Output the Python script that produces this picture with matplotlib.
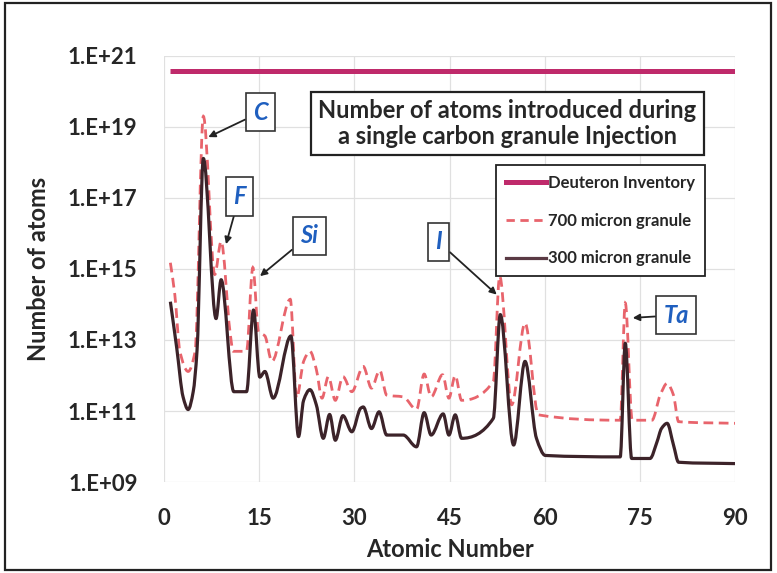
import numpy as np
import matplotlib
matplotlib.use('Agg')
import matplotlib.pyplot as plt
from matplotlib.patches import Rectangle, PathPatch
from matplotlib.path import Path
from matplotlib.lines import Line2D

plt.rcParams['font.family'] = ['Lato', 'DejaVu Sans']
plt.rcParams['font.weight'] = 'bold'

# Atomic number vs number of atoms
z_300 = [1, 2, 3, 3.8, 4.6, 5.2, 6.2, 8.2, 9.0, 11.0, 13.0, 14.1, 15.1, 15.9, 17.2,
         20.0, 21.2, 22.0, 23.0, 24.0, 25.1, 26.1, 27.0, 28.2, 29.6, 31.0, 31.4,
         32.7, 33.9, 35.1, 37.7, 39.8, 41.0, 42.1, 44.0, 44.9, 45.9, 46.9, 51.9,
         53.0, 55.1, 56.9, 58.7, 60.1, 71.9, 72.7, 73.7, 76.6, 77.7, 78.4, 79.3,
         80.3, 81.1, 90]
n_300 = [1.2e14, 6e12, 2.5e11, 1.1e11, 3.5e11, 5e12, 1.3e18, 4e13, 5e14, 3.5e11,
         3.5e11, 7e13, 9e11, 1.3e12, 2.3e11, 1.3e13, 1.9e10, 2e11, 4e11, 1.5e11,
         1.7e10, 8e10, 1.5e10, 7.4e10, 2.6e10, 1.2e11, 1.3e11, 3.2e10, 9.5e10,
         2.1e10, 2.1e10, 9.8e9, 9e10, 2.1e10, 8.3e10, 2.1e10, 7.8e10, 1.7e10,
         6.2e10, 5.2e13, 1.1e10, 2.5e12, 1.7e10, 5.6e9, 5.1e9, 8.1e12, 4.6e9,
         4.6e9, 1.35e10, 3.2e10, 4.5e10, 1.1e10, 3.6e9, 3.3e9]

z_700 = [1, 1.7, 2.5, 3.8, 4.9, 6.2, 8.0, 9.0, 10.4, 10.9, 13.0, 14.0, 14.9, 15.9,
         17.0, 19.9, 20.9, 22.0, 23.0, 24.0, 24.9, 25.9, 27.0, 28.2, 29.6, 31.4,
         32.7, 34.0, 35.1, 37.7, 39.8, 41.0, 42.1, 43.9, 44.9, 45.9, 46.9, 51.9,
         52.9, 54.8, 56.9, 59.0, 71.9, 72.7, 73.8, 76.9, 78.2, 79.3, 80.3, 81.1, 90]
n_700 = [1.5e15, 1.9e14, 4.8e12, 1.3e12, 4.8e12, 2e19, 7e14, 6e15, 1.7e13, 4.8e12,
         4.8e12, 1.1e15, 1.7e13, 1.3e13, 2.5e12, 1.4e14, 2.3e11, 2.5e12, 4.8e12,
         1.5e12, 2.3e11, 9.3e11, 2e11, 9.3e11, 3.5e11, 1.8e12, 4.4e11, 1.4e12,
         2.8e11, 2.5e11, 1.1e11, 1.1e12, 2.5e11, 1.05e12, 2.3e11, 1e12, 2e11,
         6.8e11, 6.3e14, 1.5e11, 3e13, 7.8e10, 5.5e10, 1.1e14, 5.5e10, 5.5e10,
         2.8e11, 6e11, 2.8e11, 5e10, 4.5e10]

z_deut = [1, 90]
n_deut = [3.8e20, 3.8e20]

y_ticks = [1e9, 1e11, 1e13, 1e15, 1e17, 1e19, 1e21]
y_tick_labels = ['1.E+09', '1.E+11', '1.E+13', '1.E+15', '1.E+17', '1.E+19', '1.E+21']
x_ticks = [0, 15, 30, 45, 60, 75, 90]

text_col = '#262626'
c_deut = '#BF2A6B'
c_700 = '#E8646C'
c_300 = '#3C2329'


def smooth_path(x, y):
    """Smoothed line through the points (like Excel's smoothed line), drawn as bezier segments."""
    x = np.asarray(x, float)
    ly = np.log10(y)
    h = np.diff(x)
    d = np.diff(ly) / h
    m = np.zeros_like(ly)
    for k in range(1, len(x) - 1):
        if d[k - 1] * d[k] > 0:
            w1 = 2 * h[k] + h[k - 1]
            w2 = h[k] + 2 * h[k - 1]
            m[k] = (w1 + w2) / (w1 / d[k - 1] + w2 / d[k])
    m[0], m[-1] = d[0], d[-1]
    verts = [(x[0], ly[0])]
    codes = [Path.MOVETO]
    for k in range(len(x) - 1):
        verts += [(x[k] + h[k] / 3, ly[k] + m[k] * h[k] / 3),
                  (x[k + 1] - h[k] / 3, ly[k + 1] - m[k + 1] * h[k] / 3),
                  (x[k + 1], ly[k + 1])]
        codes += [Path.CURVE4] * 3
    verts = np.array(verts)
    verts[:, 1] = 10 ** verts[:, 1]
    return Path(verts, codes)


fig = plt.figure(figsize=(7.77, 5.73), dpi=100)
ax = fig.add_axes([0.2111, 0.1588, 0.7349, 0.7435])

ax.plot(z_deut, n_deut, color=c_deut, lw=3.6, solid_capstyle='butt')
ax.add_patch(PathPatch(smooth_path(z_700, n_700), fill=False, ec=c_700, lw=2.0,
                       ls=(0, (3.5, 2)), zorder=3))
ax.add_patch(PathPatch(smooth_path(z_300, n_300), fill=False, ec=c_300, lw=2.3,
                       zorder=3, joinstyle='round'))

ax.set_yscale('log')
ax.set_ylim(1e9, 1e21)
ax.set_xlim(0, 90)
ax.set_yticks(y_ticks)
ax.set_yticklabels(y_tick_labels, fontweight='bold')
ax.yaxis.set_minor_locator(matplotlib.ticker.NullLocator())
ax.set_xticks(x_ticks)
ax.set_xticklabels([str(v) for v in x_ticks], fontweight='bold')
ax.tick_params(length=0, labelsize=16, colors=text_col)
ax.tick_params(axis='y', pad=19)
ax.tick_params(axis='x', pad=19)
for s in ax.spines.values():
    s.set_visible(False)
ax.grid(True, color='#e0e0e0', lw=0.9)
ax.set_axisbelow(True)

ax.set_xlabel('Atomic Number', fontsize=17, fontweight='bold', color=text_col, labelpad=6)
ax.set_ylabel('Number of atoms', fontsize=17, fontweight='bold', color=text_col, labelpad=13)

# element call-outs
callouts = [('C', (6.98, 5.2e18), (15.2, 2.6e19)),
            ('F', (9.77, 5e15), (11.87, 1.1e17)),
            ('Si', (15.13, 6.3e14), (22.86, 8.7e15)),
            ('I', (52.44, 1.9e14), (43.27, 5.8e15)),
            ('Ta', (73.88, 4.2e13), (80.7, 5e13))]
for name, tip, box in callouts:
    ax.annotate(name, xy=tip, xytext=box, ha='center', va='center',
                fontsize=17, fontstyle='italic', fontweight='bold', color='#1F5FBF',
                bbox=dict(boxstyle='square,pad=0.32', fc='white', ec='#333333', lw=1.2),
                arrowprops=dict(arrowstyle='-|>', color='#222222', lw=1.3,
                                mutation_scale=10, shrinkA=0, shrinkB=0),
                zorder=5)

fig.text(0.653, 0.785, 'Number of atoms introduced during\na single carbon granule Injection',
         ha='center', va='center', fontsize=17, fontweight='bold', color=text_col,
         linespacing=1.15,
         bbox=dict(boxstyle='square,pad=0.3', fc='white', ec='#222222', lw=1.6))

handles = [Line2D([], [], color=c_deut, lw=3.6),
           Line2D([], [], color=c_700, lw=2.0, ls=(0, (3, 2))),
           Line2D([], [], color='#5A3A44', lw=2.3)]
labels = ['Deuteron Inventory', '700 micron granule', '300 micron granule']
leg = ax.legend(handles, labels, loc='upper right', bbox_to_anchor=(705 / 777, 1 - 165 / 573),
                bbox_transform=fig.transFigure, borderaxespad=0,
                labelspacing=1.3, handlelength=2.4, handletextpad=0.15, borderpad=0.6,
                fancybox=False, edgecolor='#222222', framealpha=1,
                prop={'weight': 'bold', 'size': 12})
leg.get_frame().set_linewidth(1.3)
for t in leg.get_texts():
    t.set_color(text_col)

fig.patches.append(Rectangle((5 / 777, 3 / 573), 766 / 777, 567 / 573,
                             transform=fig.transFigure, fill=False,
                             ec='#222222', lw=1.6))

fig.savefig('out.png', dpi=100)
